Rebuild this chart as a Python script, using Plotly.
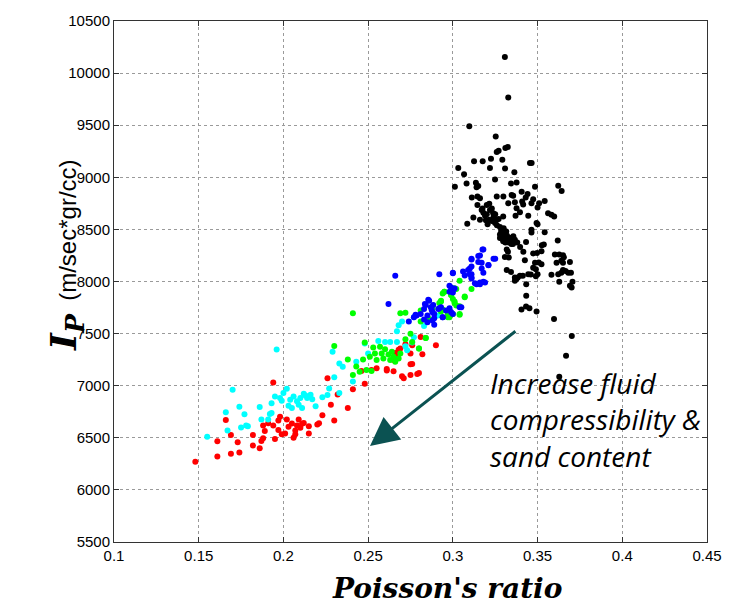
import plotly.graph_objects as go

# ---- data (Poisson's ratio, Ip) ----
red_x = [0.148,0.161,0.161,0.166,0.169,0.169,0.173,0.174,0.182,0.182,0.186,0.187,0.188,0.189,0.188,0.191,0.194,0.194,0.195,0.197,0.198,0.197,0.199,0.201,0.202,0.203,0.205,0.206,0.207,0.207,0.208,0.209,0.210,0.211,0.212,0.215,0.215,0.220,0.221,0.223,0.228,0.230,0.226,0.232,0.238,0.241,0.248,0.246,0.252,0.255,0.261,0.265,0.266,0.269,0.270,0.271,0.275,0.276,0.276,0.279,0.280,0.282,0.281,0.290,0.272,0.268,0.266,0.265,0.275,0.275,0.261]
red_y = [6270,6467,6320,6672,6527,6346,6457,6358,6425,6527,6400,6470,6495,6565,6618,6640,7030,6618,6488,6666,6703,6574,6533,6542,6675,6605,6637,6500,6533,6571,6618,6675,6596,6634,6643,6612,6542,6627,6640,6716,6818,6666,7071,6916,6786,6967,7018,7142,7151,7167,7147,7138,7313,7357,7090,7071,7103,7208,7389,7113,7122,7303,7468,7389,7398,7344,7299,7246,7309,7205,7160]

cyan_x = [0.155,0.170,0.166,0.174,0.167,0.177,0.175,0.179,0.178,0.186,0.187,0.191,0.192,0.193,0.193,0.195,0.196,0.198,0.199,0.200,0.202,0.203,0.204,0.205,0.206,0.208,0.209,0.210,0.211,0.212,0.213,0.214,0.216,0.217,0.219,0.223,0.226,0.227,0.230,0.233,0.235,0.233,0.229,0.241,0.256,0.260,0.263,0.267,0.267,0.268,0.270,0.272,0.277,0.277,0.283,0.273,0.276,0.291,0.248,0.250,0.243]
cyan_y = [6511,6961,6745,6799,6571,6726,6600,6612,6618,6796,6675,6675,6729,6738,6831,6897,7347,6882,6856,6929,6970,6808,6866,6786,6897,6850,6818,6882,6786,6923,6907,6882,6913,6869,6802,6888,6910,6973,7081,6929,7182,7213,7325,7040,7430,7420,7420,7420,7522,7579,7617,7379,7465,7658,7572,7341,7414,7674,7404,7309,7230]

green_x = [0.241,0.230,0.238,0.241,0.243,0.245,0.247,0.248,0.249,0.251,0.252,0.253,0.254,0.255,0.257,0.258,0.259,0.260,0.262,0.263,0.264,0.265,0.266,0.268,0.269,0.269,0.275,0.276,0.280,0.281,0.284,0.286,0.288,0.292,0.294,0.297,0.300,0.301,0.302,0.304,0.304,0.307,0.311,0.295,0.299,0.293,0.302,0.304,0.288,0.293,0.297,0.300,0.281,0.272,0.284,0.280,0.272,0.295,0.301,0.299,0.307,0.293,0.301,0.294,0.304,0.298]
green_y = [7696,7382,7252,7103,7185,7135,7252,7414,7151,7278,7142,7366,7309,7246,7373,7309,7262,7350,7299,7246,7325,7278,7230,7262,7309,7696,7499,7420,7357,7721,7458,7641,7762,7794,7886,7689,7832,7794,7927,8006,7689,7855,7927,7902,7870,7807,7769,7762,7737,7712,7658,7689,7617,7699,7458,7357,7446,7902,7936,7870,7848,7816,7807,7731,7680,7658]

blue_x = [0.266,0.262,0.292,0.300,0.311,0.315,0.318,0.317,0.321,0.325,0.310,0.310,0.311,0.314,0.316,0.319,0.307,0.298,0.298,0.284,0.286,0.283,0.281,0.287,0.288,0.289,0.285,0.283,0.285,0.288,0.289,0.296,0.300,0.304,0.278,0.277,0.274,0.289,0.294,0.292,0.3175,0.316,0.311,0.315,0.321,0.324,0.317,0.318,0.311,0.309,0.306,0.300,0.311,0.311,0.313,0.316,0.318,0.299,0.301,0.300,0.293,0.298,0.305,0.299,0.294,0.2855,0.2835,0.2884,0.2914,0.2875,0.2786]
blue_y = [8054,7784,8070,8083,8212,8244,8307,8180,8155,8218,8124,8070,8038,7974,7974,7990,8057,7959,7902,7775,7816,7737,7689,7753,7705,7689,7674,7636,7610,7626,7648,7721,7689,7753,7680,7658,7617,7585,7658,7743,8307,8250,8218,8187,8158,8218,8124,8085,8143,8111,8095,8079,8070,8028,7984,7990,7997,7943,7933,7895,7753,7743,7753,7705,7658,7826,7784,7775,7737,7727,7674]

black_x = [0.3307,0.3327,0.3097,0.3253,0.3324,0.3310,0.3259,0.3270,0.3292,0.3225,0.3219,0.3308,0.3125,0.3176,0.3032,0.3066,0.3363,0.3455,0.3465,0.3012,0.3081,0.3136,0.3150,0.3140,0.3249,0.3376,0.3343,0.3622,0.3642,0.3485,0.3112,0.3145,0.3160,0.3259,0.3298,0.3347,0.3356,0.3406,0.3441,0.3474,0.3430,0.3145,0.3200,0.3215,0.3327,0.3366,0.3409,0.3415,0.3464,0.3509,0.3542,0.3500,0.3170,0.3219,0.3238,0.3200,0.3250,0.3376,0.3396,0.3445,0.3370,0.3562,0.3582,0.3598,0.3121,0.3160,0.3195,0.3215,0.3259,0.3085,0.3205,0.3249,0.3297,0.3494,0.3500,0.3542,0.3464,0.3464,0.3278,0.3285,0.3278,0.3297,0.3305,0.3315,0.3322,0.3278,0.3297,0.3310,0.3330,0.3357,0.3366,0.3380,0.3318,0.3325,0.3307,0.3330,0.3355,0.3397,0.3416,0.3432,0.3474,0.3497,0.3523,0.3537,0.3525,0.3425,0.3485,0.3507,0.3523,0.3318,0.3343,0.3366,0.3375,0.3396,0.3413,0.3445,0.3460,0.3474,0.3490,0.3500,0.3490,0.3433,0.3366,0.3383,0.3602,0.3628,0.3650,0.3655,0.3612,0.3640,0.3650,0.3665,0.3650,0.3640,0.3622,0.3582,0.3691,0.3681,0.3697,0.3706,0.3691,0.3701,0.3628,0.3619,0.3433,0.3405,0.3432,0.3452,0.3494,0.3597,0.3702,0.3668,0.3628,0.3290,0.3300,0.3310,0.3320,0.3315,0.3300,0.3325,0.3335,0.3340,0.3295,0.3285,0.3345,0.3260,0.3270,0.3240,0.3230,0.3190,0.3180,0.3175,0.3230]
black_y = [10155,9765,9490,9391,9290,9280,9242,9254,9169,9179,9090,9084,9153,9153,9090,9030,9049,9138,9137,8910,8941,8948,8916,8905,8979,8951,8941,8919,8868,8910,8805,8815,8800,8815,8815,8830,8822,8862,8840,8789,8805,8735,8735,8745,8751,8760,8767,8740,8751,8751,8773,8710,8687,8687,8656,8645,8645,8703,8665,8630,8630,8656,8640,8624,8614,8592,8587,8592,8592,8554,8550,8561,8624,8561,8550,8472,8497,8470,8523,8485,8450,8465,8440,8420,8405,8418,8387,8375,8375,8434,8400,8375,8307,8285,8235,8230,8360,8330,8285,8380,8269,8273,8291,8355,8348,8203,8180,8183,8165,8111,8092,8038,8025,8054,8054,8070,8068,8133,8117,8070,8050,7974,8006,8038,8259,8259,8253,8232,8180,8200,8180,8101,8110,8085,8070,8064,8187,8085,8085,7997,7959,7943,7997,8393,7864,7731,7759,7743,7712,7641,7477,7287,7087,8500,8470,8455,8440,8480,8510,8395,8420,8390,8440,8420,8360,8540,8600,8620,8580,8630,8660,8700,8700]

x_ticks = [0.1,0.15,0.2,0.25,0.3,0.35,0.4,0.45]
y_ticks = [5500,6000,6500,7000,7500,8000,8500,9000,9500,10000,10500]

series = [(red_x, red_y, "#ff0000"), (cyan_x, cyan_y, "#00ffff"),
          (green_x, green_y, "#00ff00"), (blue_x, blue_y, "#0000ff"),
          (black_x, black_y, "#000000")]

fig = go.Figure()
for xs, ys, c in series:
    fig.add_trace(go.Scatter(x=xs, y=ys, mode="markers",
                             marker=dict(color=c, size=6, line=dict(width=0)),
                             showlegend=False))

axis_common = dict(showgrid=True, gridcolor="#9a9a9a", griddash="dot", gridwidth=1,
                   showline=True, linecolor="#333333", linewidth=1, mirror="ticks",
                   ticks="inside", ticklen=5, tickcolor="#333333", zeroline=False,
                   tickfont=dict(family="Liberation Sans, Arial", size=15, color="#000000"))

fig.update_xaxes(range=[0.1, 0.45], tickvals=x_ticks,
                 ticktext=[f"{v:g}" for v in x_ticks], **axis_common)
fig.update_yaxes(range=[5500, 10500], tickvals=y_ticks,
                 ticktext=[str(v) for v in y_ticks], **axis_common)

# arrow
fig.add_annotation(x=0.2511, y=6422, ax=0.3378, ay=7534, xref="x", yref="y",
                   axref="x", ayref="y", text="", showarrow=True,
                   arrowhead=2, arrowsize=1.9, arrowwidth=3, arrowcolor="#0b5252")
# note text
fig.add_annotation(x=0.6307, y=0.345, xref="paper", yref="paper", xanchor="left",
                   yanchor="top", align="left", showarrow=False,
                   text="<i>Increase fluid<br>compressibility &amp;<br>sand content</i>",
                   font=dict(family="Open Sans", size=28, color="#000000"))

# axis titles
fig.add_annotation(x=-0.124, y=0.55, xref="paper", yref="paper", textangle=-90,
                   showarrow=False,
                   text='<span style="font-family:DejaVu Serif;font-size:36px"><b><i>I<sub>P</sub></i></b></span>  (m/sec*gr/cc)',
                   font=dict(family="Liberation Sans, Arial", size=24, color="#000000"))
fig.add_annotation(x=0.562, y=-0.089, xref="paper", yref="paper", yanchor="middle",
                   showarrow=False, text="<b><i>Poisson's ratio</i></b>",
                   font=dict(family="DejaVu Serif", size=28, color="#000000"))

fig.update_layout(width=748, height=605, margin=dict(l=114, r=41, t=16, b=63),
                  plot_bgcolor="white", paper_bgcolor="white")
fig.write_html("out.html")
